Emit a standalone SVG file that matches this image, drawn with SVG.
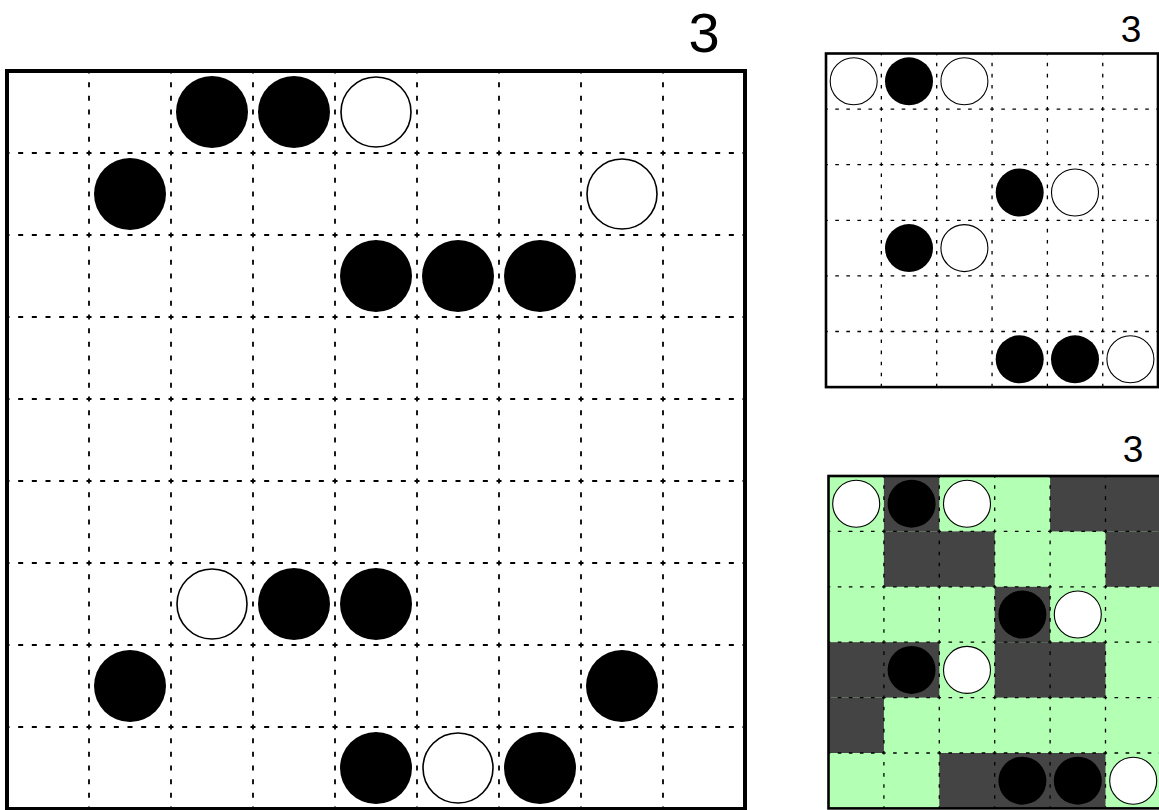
<svg xmlns="http://www.w3.org/2000/svg" width="1159" height="810" viewBox="0 0 1159 810">
<style>
.lbl{font-family:"Liberation Sans",Arial,sans-serif;fill:#000;text-anchor:middle}
.bd{fill:none;stroke:#000}
.dm{stroke:#000;stroke-width:1.8;stroke-dasharray:5 8.667;stroke-dashoffset:2.5}
.ds{stroke:#000;stroke-width:1.3;stroke-dasharray:3.6 7.47;stroke-dashoffset:1.8}
.b{fill:#000}
.w{fill:#fff;stroke:#000;stroke-width:1.6}
.ws{fill:#fff;stroke:#000;stroke-width:1.1}
.g{fill:#b3ffb3}
.k{fill:#444}
</style>
<rect width="1159" height="810" fill="#fff"/>
<g id="main-board">
<text class="lbl" x="704" y="52" font-size="56">3</text>
<g id="main-grid">
<path class="dm" d="M89 71V809M171 71V809M253 71V809M335 71V809M417 71V809M499 71V809M581 71V809M663 71V809"/>
<path class="dm" d="M7 153H745M7 235H745M7 317H745M7 399H745M7 481H745M7 563H745M7 645H745M7 727H745"/>
<rect class="bd" x="7" y="71" width="738" height="738" stroke-width="4"/>
</g>
<g id="main-stones">
<circle class="b" cx="212" cy="112" r="36"/>
<circle class="b" cx="294" cy="112" r="36"/>
<circle class="w" cx="376" cy="112" r="35"/>
<circle class="b" cx="130" cy="194" r="36"/>
<circle class="w" cx="622" cy="194" r="35"/>
<circle class="b" cx="376" cy="276" r="36"/>
<circle class="b" cx="458" cy="276" r="36"/>
<circle class="b" cx="540" cy="276" r="36"/>
<circle class="w" cx="212" cy="604" r="35"/>
<circle class="b" cx="294" cy="604" r="36"/>
<circle class="b" cx="376" cy="604" r="36"/>
<circle class="b" cx="130" cy="686" r="36"/>
<circle class="b" cx="622" cy="686" r="36"/>
<circle class="b" cx="376" cy="768" r="36"/>
<circle class="w" cx="458" cy="768" r="35"/>
<circle class="b" cx="540" cy="768" r="36"/>
</g>
</g>
<g id="top-right-board">
<text class="lbl" x="1131" y="42" font-size="37">3</text>
<g id="tr-grid" transform="translate(826 53.5)">
<path class="ds" d="M55.35 0V333.6M110.7 0V333.6M166.05 0V333.6M221.4 0V333.6M276.75 0V333.6"/>
<path class="ds" d="M0 55.6H332M0 111.2H332M0 166.8H332M0 222.4H332M0 278H332"/>
<rect class="bd" x="0" y="0" width="332" height="333.6" stroke-width="2.6"/>
</g>
<g id="tr-stones" transform="translate(826 53.5)">
<circle class="ws" cx="27.7" cy="27.8" r="23.5"/>
<circle class="b" cx="83" cy="27.8" r="24"/>
<circle class="ws" cx="138.4" cy="27.8" r="23.5"/>
<circle class="b" cx="193.7" cy="139" r="24"/>
<circle class="ws" cx="249" cy="139" r="23.5"/>
<circle class="b" cx="83" cy="194.6" r="24"/>
<circle class="ws" cx="138.4" cy="194.6" r="23.5"/>
<circle class="b" cx="193.7" cy="305.8" r="24"/>
<circle class="b" cx="249" cy="305.8" r="24"/>
<circle class="ws" cx="304.4" cy="305.8" r="23.5"/>
</g>
</g>
<g id="bottom-right-board">
<text class="lbl" x="1133" y="462" font-size="37">3</text>
<g id="br-cells" transform="translate(828.5 476)">
<rect class="g" x="0" y="0" width="332.4" height="332.4"/>
<rect class="k" x="55.4" y="0" width="55.4" height="55.4"/>
<rect class="k" x="221.6" y="0" width="110.8" height="55.4"/>
<rect class="k" x="55.4" y="55.4" width="110.8" height="55.4"/>
<rect class="k" x="277" y="55.4" width="55.4" height="55.4"/>
<rect class="k" x="166.2" y="110.8" width="55.4" height="55.4"/>
<rect class="k" x="0" y="166.2" width="110.8" height="55.4"/>
<rect class="k" x="166.2" y="166.2" width="110.8" height="55.4"/>
<rect class="k" x="0" y="221.6" width="55.4" height="55.4"/>
<rect class="k" x="110.8" y="277" width="166.2" height="55.4"/>
</g>
<g id="br-grid" transform="translate(828.5 476)">
<path class="ds" d="M55.4 0V332.4M110.8 0V332.4M166.2 0V332.4M221.6 0V332.4M277 0V332.4"/>
<path class="ds" d="M0 55.4H332.4M0 110.8H332.4M0 166.2H332.4M0 221.6H332.4M0 277H332.4"/>
<rect class="bd" x="0" y="0" width="332.4" height="332.4" stroke-width="2.6"/>
</g>
<g id="br-stones" transform="translate(828.5 476)">
<circle class="ws" cx="27.7" cy="27.7" r="23.5"/>
<circle class="b" cx="83.1" cy="27.7" r="24"/>
<circle class="ws" cx="138.5" cy="27.7" r="23.5"/>
<circle class="b" cx="193.9" cy="138.5" r="24"/>
<circle class="ws" cx="249.3" cy="138.5" r="23.5"/>
<circle class="b" cx="83.1" cy="193.9" r="24"/>
<circle class="ws" cx="138.5" cy="193.9" r="23.5"/>
<circle class="b" cx="193.9" cy="304.7" r="24"/>
<circle class="b" cx="249.3" cy="304.7" r="24"/>
<circle class="ws" cx="304.7" cy="304.7" r="23.5"/>
</g>
</g>
</svg>
